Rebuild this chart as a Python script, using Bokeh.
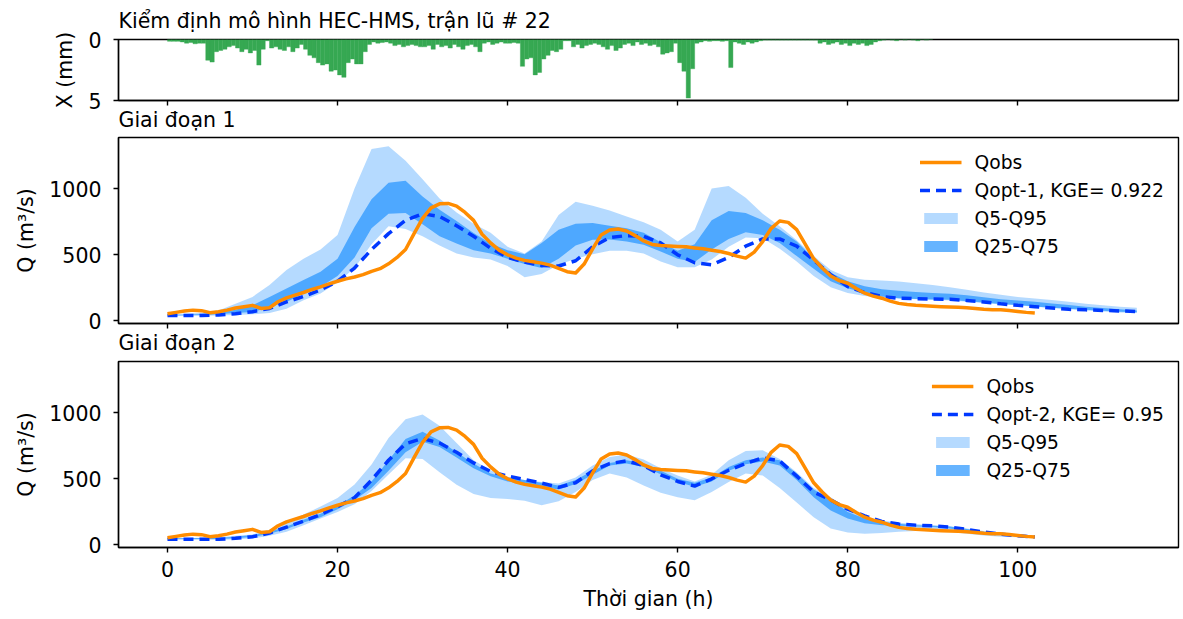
from bokeh.plotting import figure
from bokeh.models import Range1d, FixedTicker, Legend, LegendItem, Title
from bokeh.layouts import column
from bokeh.embed import file_html
from bokeh.resources import INLINE

# ---------------- data ----------------
title_top = "Kiểm định mô hình HEC-HMS, trận lũ # 22"
title_p1 = "Giai đoạn 1"
title_p2 = "Giai đoạn 2"
x_ticks = [0, 20, 40, 60, 80, 100]
q_ticks = [0, 500, 1000]
rain_ticks = [0, 5]

# rainfall (mm) per half hour, starting at t = 0 h
rain = [0.15, 0.15, 0.15, 0.2, 0.3, 0.25, 0.35, 0.3, 0.3, 1.7,
        1.85, 1.0, 0.9, 0.8, 0.6, 0.5, 0.7, 1.0, 0.8, 1.1,
        0.9, 2.1, 0.8, 0.1, 0.7, 0.6, 0.8, 0.9, 0.6, 1.0,
        0.7, 0.4, 0.8, 1.3, 1.5, 1.9, 2.1, 2.0, 2.6, 2.5,
        2.9, 3.1, 1.9, 1.6, 2.0, 2.0, 1.0, 0.4, 0.2, 0.3,
        0.25, 0.2, 0.3, 0.5, 0.4, 0.6, 0.5, 0.4, 0.5, 0.6,
        0.6, 0.5, 0.8, 0.4, 0.6, 0.5, 0.7, 0.4, 0.6, 0.8,
        0.5, 0.4, 0.6, 1.0, 0.3, 0.2, 0.4, 0.3, 0.2, 0.3,
        0.3, 0.25, 0.3, 2.2, 1.6, 1.5, 2.9, 2.7, 1.6, 1.3,
        0.9, 1.0, 0.8, 0.1, 0.1, 0.6, 0.4, 0.7, 0.5, 0.4,
        0.3, 0.4, 0.6, 0.8, 0.5, 0.9, 0.7, 0.4, 0.3, 0.5,
        0.2, 0.4, 0.3, 0.5, 0.4, 0.6, 1.2, 1.1, 1.0, 0.3,
        1.9, 2.6, 4.8, 2.4, 0.3, 0.2, 0.1, 0.15, 0.1, 0.1,
        0.15, 0.1, 2.3, 0.2, 0.3, 0.4, 0.2, 0.3, 0.2, 0.1,
        0.05, 0.05, 0.05, 0.05, 0.05, 0.05, 0.05, 0.05, 0.05, 0.05,
        0.05, 0.05, 0.05, 0.3, 0.2, 0.4, 0.3, 0.2, 0.4, 0.3,
        0.5, 0.3, 0.4, 0.3, 0.5, 0.4, 0.2, 0.1, 0.05, 0.0,
        0.05, 0.1, 0.0, 0.05, 0.0, 0.05, 0.1, 0.0, 0.05, 0.0]
rain_step = 0.5

# observed discharge, hourly, t = 0..102 h
t_obs = list(range(0, 103))
q_obs = [55, 65, 75, 82, 78, 63, 70, 82, 98, 108,
         118, 95, 100, 145, 175, 195, 215, 238, 258, 280,
         300, 318, 332, 350, 375, 395, 432, 480, 540, 660,
         775, 855, 885, 888, 868, 820, 760, 655, 590, 535,
         500, 475, 458, 447, 437, 422, 398, 372, 362, 430,
         545, 650, 688, 695, 680, 645, 605, 578, 570, 566,
         563, 560, 552, 545, 535, 525, 510, 490, 475, 520,
         600, 700, 755, 745, 690, 580, 470, 400, 340, 305,
         285, 245, 210, 188, 172, 150, 133, 124, 118, 115,
         111, 108, 106, 103, 100, 95, 88, 85, 85, 80,
         72, 65, 60]

# stage 1 simulation, every 2 h, t = 0..114 h
t_sim1 = list(range(0, 115, 2))
q_opt1 = [42, 42, 42, 45, 55, 70, 95, 144, 185, 235,
          300, 400, 540, 660, 760, 810, 790, 720, 640, 550,
          480, 445, 420, 415, 455, 560, 630, 645, 640, 590,
          500, 440, 425, 480, 565, 620, 620, 565, 460, 350,
          260, 215, 185, 172, 168, 166, 164, 155, 144, 130,
          118, 108, 98, 88, 84, 80, 76, 72]
q95_1 = [50, 55, 62, 80, 131, 182, 271, 385, 470, 540,
         650, 1000, 1300, 1320, 1210, 1070, 925, 820, 735, 666,
         560, 510, 600, 800, 900, 870, 835, 790, 745, 690,
         600, 690, 1000, 1020, 930, 810, 715, 610, 490, 385,
         330, 312, 305, 298, 285, 272, 255, 235, 215, 198,
         182, 170, 158, 145, 130, 118, 108, 100]
q5_1 = [40, 40, 40, 42, 45, 50, 60, 93, 157, 207,
        290, 400, 580, 715, 695, 640, 570, 510, 480, 465,
        415, 330, 355, 425, 470, 505, 530, 530, 510, 450,
        405, 405, 465, 560, 630, 625, 545, 450, 340, 255,
        212, 188, 178, 170, 165, 160, 155, 145, 135, 125,
        118, 108, 98, 88, 80, 72, 65, 60]
q75_1 = [45, 48, 52, 60, 85, 118, 182, 246, 309, 372,
         470, 710, 920, 1045, 1060, 940, 840, 755, 665, 585,
         535, 505, 590, 690, 735, 740, 720, 700, 666, 595,
         530, 580, 760, 830, 815, 760, 690, 600, 470, 365,
         300, 262, 240, 228, 218, 212, 206, 195, 180, 165,
         155, 145, 133, 120, 108, 98, 88, 80]
q25_1 = [42, 43, 45, 50, 60, 67, 105, 144, 207, 258,
         340, 480, 700, 810, 815, 730, 640, 585, 535, 510,
         470, 430, 400, 470, 570, 614, 615, 600, 576, 525,
         470, 445, 540, 620, 670, 650, 590, 490, 395, 300,
         248, 212, 185, 172, 166, 163, 160, 150, 140, 128,
         120, 110, 100, 92, 85, 78, 70, 66]

# stage 2 simulation, every 2 h, t = 0..102 h
t_sim2 = list(range(0, 103, 2))
q_opt2 = [43, 43, 43, 43, 50, 62, 90, 135, 180, 230,
          290, 357, 490, 640, 765, 805, 770, 700, 620, 555,
          520, 495, 468, 435, 470, 560, 615, 635, 600, 530,
          480, 445, 500, 565, 615, 658, 635, 520, 400, 340,
          270, 220, 178, 158, 150, 145, 135, 118, 98, 82,
          70, 60]
q95_2 = [50, 52, 55, 58, 70, 80, 115, 165, 230, 290,
         355, 457, 608, 809, 950, 985, 900, 770, 640, 565,
         515, 490, 475, 465, 510, 600, 665, 683, 645, 580,
         525, 480, 530, 640, 710, 715, 650, 550, 430, 360,
         270, 215, 185, 168, 158, 150, 142, 125, 105, 90,
         80, 72]
q5_2 = [40, 40, 40, 40, 42, 50, 70, 100, 150, 200,
        250, 307, 407, 533, 655, 650, 550, 455, 385, 355,
        348, 335, 300, 330, 400, 490, 540, 510, 450, 395,
        360, 337, 400, 475, 540, 525, 430, 320, 210, 125,
        95, 85, 90, 100, 106, 106, 100, 85, 72, 63,
        58, 55]
q75_2 = [50, 50, 52, 55, 62, 75, 100, 140, 190, 235,
         295, 375, 480, 640, 800, 855, 790, 700, 615, 540,
         510, 490, 470, 450, 490, 560, 620, 640, 615, 560,
         500, 470, 510, 590, 640, 660, 640, 540, 420, 345,
         250, 200, 175, 160, 150, 145, 140, 120, 100, 85,
         72, 62]
q25_2 = [45, 45, 45, 45, 50, 60, 85, 120, 170, 210,
         270, 340, 430, 560, 700, 780, 740, 660, 580, 520,
         480, 460, 440, 420, 460, 530, 600, 615, 590, 535,
         475, 440, 480, 560, 610, 630, 600, 490, 360, 260,
         200, 165, 150, 145, 140, 135, 125, 105, 88, 75,
         65, 55]

label_p1 = "Qopt-1, KGE= 0.922"
label_p2 = "Qopt-2, KGE= 0.95"

# ---------------- styling ----------------
FONT = "DejaVu Sans"
FS = "20.5px"
LEG_FS = "18.7px"
ORANGE = "#ff8c00"
DASH_BLUE = "#0038ff"
BAND = "#1e90ff"
GREEN = "#36a852"

x_range = Range1d(-5.76, 118.9)


def make_fig(height, top, bottom):
    p = figure(width=1183, height=height, x_range=x_range,
               output_backend="svg", toolbar_location=None, tools="",
               min_border_left=118, min_border_right=5,
               min_border_top=top, min_border_bottom=bottom,
               background_fill_color="white", border_fill_color="white")
    p.grid.grid_line_color = None
    p.outline_line_color = "black"
    p.outline_line_width = 1.4
    p.outline_line_alpha = 1
    for ax in p.axis:
        ax.axis_line_width = 1.4
        ax.axis_line_color = "black"
        ax.major_tick_line_width = 1.4
        ax.major_tick_line_color = "black"
        ax.major_tick_in = 0
        ax.major_tick_out = 5
        ax.minor_tick_line_color = None
        ax.major_label_text_font = FONT
        ax.major_label_text_font_size = FS
        ax.major_label_text_color = "black"
        ax.axis_label_text_font = FONT
        ax.axis_label_text_font_size = FS
        ax.axis_label_text_font_style = "normal"
        ax.axis_label_text_color = "black"
    p.xaxis.ticker = FixedTicker(ticks=x_ticks)
    p.yaxis.major_label_standoff = 12
    p.yaxis.axis_label_standoff = 8
    return p


def add_title(p, text, place, standoff):
    t = Title(text=text, align="left", text_font=FONT, text_font_size=FS,
              text_font_style="normal", text_color="black",
              standoff=standoff, offset=0)
    p.add_layout(t, place)


def hide_x_labels(p):
    # tick marks only (shared x axis): labels are not painted
    p.xaxis.major_label_text_font_size = "1px"
    p.xaxis.major_label_text_color = None
    p.xaxis.major_label_standoff = 0


# ---- rainfall panel ----
p0 = make_fig(133, 39, 33)
p0.y_range = Range1d(5, 0)
hide_x_labels(p0)
add_title(p0, title_top, "above", 13)
add_title(p0, title_p1, "below", 1)
p0.yaxis.ticker = FixedTicker(ticks=rain_ticks)
p0.yaxis.axis_label = "X (mm)"
t_rain = [rain_step * (i + 0.5) for i in range(len(rain))]
p0.vbar(x=t_rain, width=rain_step, top=rain, bottom=0,
        fill_color=GREEN, line_color=GREEN, line_width=0.4)


def q_panel(p, t_sim, q5, q95, q25, q75, qopt, opt_label):
    p.yaxis.ticker = FixedTicker(ticks=q_ticks)
    p.yaxis.axis_label = "Q (m³/s)"
    r_b1 = p.varea(x=t_sim, y1=q5, y2=q95, fill_color=BAND, fill_alpha=0.33)
    r_b2 = p.varea(x=t_sim, y1=q25, y2=q75, fill_color=BAND, fill_alpha=0.68)
    r_opt = p.line(t_sim, qopt, line_color=DASH_BLUE, line_width=3.5,
                   line_dash="10 6")
    r_obs = p.line(t_obs, q_obs, line_color=ORANGE, line_width=3.5,
                   line_join="round")
    leg = Legend(items=[LegendItem(label="Qobs", renderers=[r_obs]),
                        LegendItem(label=opt_label, renderers=[r_opt]),
                        LegendItem(label="Q5-Q95", renderers=[r_b1]),
                        LegendItem(label="Q25-Q75", renderers=[r_b2])],
                 location="top_right", label_text_font=FONT,
                 label_text_font_size=LEG_FS, label_text_color="black",
                 border_line_color=None, background_fill_alpha=0,
                 glyph_width=42, glyph_height=14, label_height=22,
                 spacing=6, padding=10, margin=14, label_standoff=13)
    p.add_layout(leg)


p1 = make_fig(224, 4, 34)
p1.y_range = Range1d(-19, 1386)
hide_x_labels(p1)
add_title(p1, title_p2, "below", 1)
q_panel(p1, t_sim1, q5_1, q95_1, q25_1, q75_1, q_opt1, label_p1)

p2 = make_fig(262, 4, 72)
p2.y_range = Range1d(-19, 1386)
p2.xaxis.axis_label = "Thời gian (h)"
p2.xaxis.major_label_standoff = 8
p2.xaxis.axis_label_standoff = 7
q_panel(p2, t_sim2, q5_2, q95_2, q25_2, q75_2, q_opt2, label_p2)

layout = column(p0, p1, p2, spacing=0)

with open("out.html", "w") as f:
    f.write(file_html(layout, INLINE))
